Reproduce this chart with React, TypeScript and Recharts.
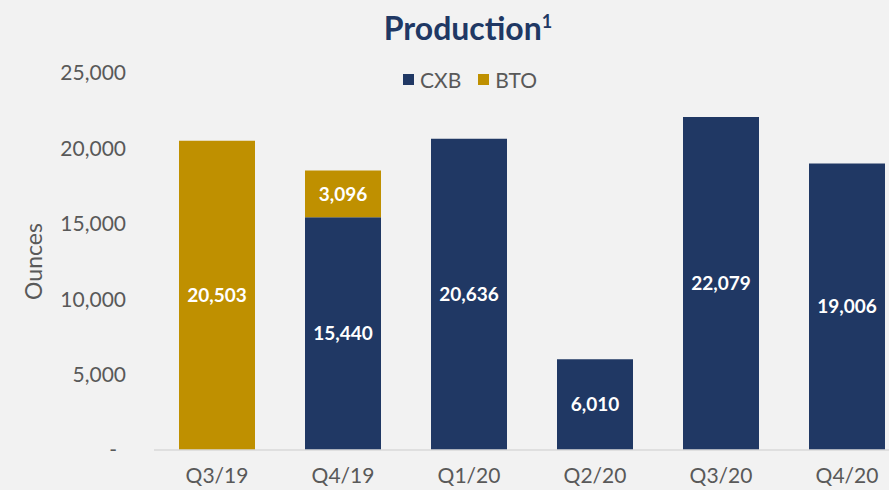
import React from 'react';
import { BarChart, Bar, XAxis, YAxis, Legend, LabelList } from 'recharts';

const quarters = ['Q3/19', 'Q4/19', 'Q1/20', 'Q2/20', 'Q3/20', 'Q4/20'];
const cxb = [null, 15440, 20636, 6010, 22079, 19006];
const bto = [20503, 3096, null, null, null, null];
const yTicks = [0, 5000, 10000, 15000, 20000, 25000];

const NAVY = '#203864';
const GOLD = '#BF9000';
const GREY = '#595959';
const FONT = 'Lato, "Open Sans", sans-serif';

const data = quarters.map((q, i) => ({ name: q, CXB: cxb[i], BTO: bto[i] }));

const fmt = (v: any) => (v ? Number(v).toLocaleString('en-US') : '');

const YTick = (props: any) => {
    const { x, y, payload } = props;
    const isZero = payload.value === 0;
    return (
        <text
            x={isZero ? x - 9 : x}
            y={y}
            dy="0.35em"
            textAnchor="end"
            fill={GREY}
            fontSize={21}
            fontFamily={FONT}
        >
            {isZero ? '-' : payload.value.toLocaleString('en-US')}
        </text>
    );
};

const OuncesLabel = (props: any) => {
    const vb = props.viewBox || {};
    const cx = 33;
    const cy = (vb.y || 0) + (vb.height || 0) / 2;
    return (
        <text
            x={cx}
            y={cy}
            transform={`rotate(-90, ${cx}, ${cy})`}
            textAnchor="middle"
            dominantBaseline="central"
            fill={GREY}
            fontSize={23}
            fontFamily={FONT}
        >
            Ounces
        </text>
    );
};

const LegendContent = () => (
    <div style={{ display: 'flex', alignItems: 'center', fontFamily: FONT, fontSize: 21, color: GREY }}>
        {[
            { label: 'CXB', color: NAVY },
            { label: 'BTO', color: GOLD },
        ].map((it) => (
            <div key={it.label} style={{ display: 'flex', alignItems: 'center', marginRight: 17 }}>
                <span style={{ width: 11, height: 11, background: it.color, display: 'inline-block', marginRight: 6 }} />
                <span>{it.label}</span>
            </div>
        ))}
    </div>
);

const App = () => {
    return (
        <div
            style={{
                position: 'absolute',
                left: 0,
                top: 0,
                width: 889,
                height: 490,
                background: '#f2f2f2',
                overflow: 'hidden',
            }}
        >
            <div
                style={{
                    position: 'absolute',
                    top: 8,
                    left: 0,
                    width: 936,
                    textAlign: 'center',
                    fontFamily: FONT,
                    fontWeight: 700,
                    fontSize: 32,
                    color: NAVY,
                    zIndex: 2,
                }}
            >
                Production<span style={{ fontSize: 18, verticalAlign: 'top', position: 'relative', top: 2 }}>1</span>
            </div>
            <BarChart
                width={920}
                height={490}
                data={data}
                margin={{ top: 73, right: 10, left: 0, bottom: 0 }}
                barSize={76}
            >
                <XAxis
                    dataKey="name"
                    height={40}
                    axisLine={{ stroke: '#d9d9d9', strokeWidth: 1.5 }}
                    tickLine={false}
                    tickSize={10}
                    tickMargin={8}
                    tick={{ fill: GREY, fontSize: 21, fontFamily: FONT }}
                    interval={0}
                />
                <YAxis
                    width={154}
                    domain={[0, 25000]}
                    ticks={yTicks}
                    axisLine={false}
                    tickLine={false}
                    tickSize={20}
                    tickMargin={8}
                    tick={<YTick />}
                    label={<OuncesLabel />}
                />
                <Legend
                    layout="vertical"
                    align="center"
                    verticalAlign="middle"
                    content={<LegendContent />}
                    wrapperStyle={{ top: 67, left: 403, width: 200 }}
                />
                <Bar dataKey="CXB" stackId="a" fill={NAVY} isAnimationActive={false}>
                    <LabelList
                        dataKey="CXB"
                        position="center"
                        formatter={fmt}
                        fill="#ffffff"
                        fontSize={19}
                        fontWeight={700}
                        fontFamily={FONT}
                    />
                </Bar>
                <Bar dataKey="BTO" stackId="a" fill={GOLD} isAnimationActive={false}>
                    <LabelList
                        dataKey="BTO"
                        position="center"
                        formatter={fmt}
                        fill="#ffffff"
                        fontSize={19}
                        fontWeight={700}
                        fontFamily={FONT}
                    />
                </Bar>
            </BarChart>
        </div>
    );
};

export default App;
